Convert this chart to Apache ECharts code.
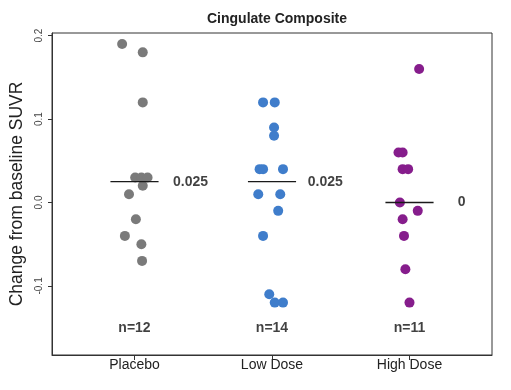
<!DOCTYPE html>
<html>
<head>
<meta charset="utf-8">
<script src="https://cdn.jsdelivr.net/npm/echarts@6/dist/echarts.min.js"></script>
<style>html,body{margin:0;padding:0;background:#fff}#c{width:511px;height:390px}</style>
</head>
<body>
<div id="c"></div>
<script>
// Data
var categories = ['Placebo', 'Low Dose', 'High Dose'];
var placeboValues = [0.19, 0.18, 0.12, 0.03, 0.03, 0.03, 0.02, 0.01, -0.02, -0.04, -0.05, -0.07];
var placeboJitter = [-0.09, 0.06, 0.06, 0.005, 0.05, 0.095, 0.06, -0.04, 0.01, -0.07, 0.05, 0.055];
var lowValues = [0.12, 0.12, 0.09, 0.08, 0.04, 0.04, 0.04, 0.01, 0.01, -0.01, -0.04, -0.11, -0.12, -0.12];
var lowJitter = [-0.065, 0.02, 0.015, 0.015, -0.09, -0.065, 0.08, -0.1, 0.06, 0.045, -0.065, -0.02, 0.02, 0.08];
var highValues = [0.16, 0.06, 0.06, 0.04, 0.04, 0.0, -0.01, -0.02, -0.04, -0.08, -0.12];
var highJitter = [0.07, -0.08, -0.05, -0.05, -0.01, -0.07, 0.06, -0.05, -0.04, -0.03, 0.0];
var medians = [0.025, 0.025, 0];
var medianLabels = ['0.025', '0.025', '0'];
var nLabels = ['n=12', 'n=14', 'n=11'];
var yTicks = [-0.1, 0.0, 0.1, 0.2];
var yTickLabels = ['-0.1', '0.0', '0.1', '0.2'];
var colors = ['#7a7a7a', '#3f7dcb', '#861d8c'];

var groups = [
  {v: placeboValues, j: placeboJitter},
  {v: lowValues, j: lowJitter},
  {v: highValues, j: highJitter}
];

var series = [];
groups.forEach(function (g, gi) {
  series.push({
    type: 'scatter',
    symbolSize: 10,
    itemStyle: {color: colors[gi], opacity: 1},
    data: g.v.map(function (val, k) { return [gi + 1 + g.j[k], val]; }),
    z: 3
  });
  series.push({
    type: 'line',
    symbol: 'none',
    lineStyle: {color: '#1a1a1a', width: 1.3},
    data: [[gi + 1 - 0.175, medians[gi]], [gi + 1 + 0.175, medians[gi]]],
    z: 4
  });
});

var labelStyle = {show: true, position: [0, 0], verticalAlign: 'middle',
  fontFamily: 'Liberation Sans, Arial', fontWeight: 'bold', fontSize: 14,
  color: '#111', textBorderWidth: 0};

// median value labels
var medLabelX = [1.28, 2.26, 3.35];
series.push({
  type: 'scatter',
  symbolSize: 0,
  silent: true,
  itemStyle: {color: '#111'},
  data: medians.map(function (m, i) { return {value: [medLabelX[i], m], label: {formatter: medianLabels[i]}}; }),
  label: Object.assign({}, labelStyle, {align: 'left'}),
  z: 5
});
// n labels
series.push({
  type: 'scatter',
  symbolSize: 0,
  silent: true,
  itemStyle: {color: '#111'},
  data: nLabels.map(function (t, i) { return {value: [i + 1, -0.151], label: {formatter: t}}; }),
  label: Object.assign({}, labelStyle, {align: 'center'}),
  z: 5
});

var chart = echarts.init(document.getElementById('c'), null, {renderer: 'canvas'});
chart.setOption({
  animation: false,
  backgroundColor: '#fff',
  title: {
    text: 'Cingulate Composite', left: 272, top: 7, textAlign: 'center',
    textStyle: {fontFamily: 'Liberation Sans, Arial', fontWeight: 'bold', fontSize: 14, color: '#222'}
  },
  grid: {left: 52, right: 19, top: 33, bottom: 35, show: true, borderColor: '#333', borderWidth: 1,
         containLabel: false, outerBoundsMode: 'none'},
  xAxis: {
    type: 'value', min: 0.4, max: 3.6,
    axisLine: {show: true, onZero: false, lineStyle: {color: '#333', width: 1}},
    splitLine: {show: false},
    axisTick: {show: true, customValues: [1, 2, 3], length: 5, lineStyle: {color: '#333'}},
    axisLabel: {show: true, customValues: [1, 2, 3], margin: 3,
      formatter: function (v) { return categories[Math.round(v) - 1]; },
      fontFamily: 'Liberation Sans, Arial', fontSize: 14, color: '#222'}
  },
  yAxis: {
    type: 'value', min: -0.1828, max: 0.2032,
    name: 'Change from baseline SUVR', nameLocation: 'middle', nameGap: 25, nameRotate: 90,
    nameTextStyle: {fontFamily: 'Liberation Sans, Arial', fontSize: 17.5, color: '#222'},
    axisLine: {show: true, onZero: false, lineStyle: {color: '#333', width: 1}},
    splitLine: {show: false},
    axisTick: {show: true, customValues: yTicks, length: 4, lineStyle: {color: '#333'}},
    axisLabel: {show: true, customValues: yTicks, rotate: 90, margin: 8,
      formatter: function (v) {
        var i = yTicks.findIndex(function (t) { return Math.abs(t - v) < 1e-9; });
        return i >= 0 ? yTickLabels[i] : '';
      },
      fontFamily: 'Liberation Sans, Arial', fontSize: 10, color: '#444'}
  },
  series: series
});
</script>
</body>
</html>
